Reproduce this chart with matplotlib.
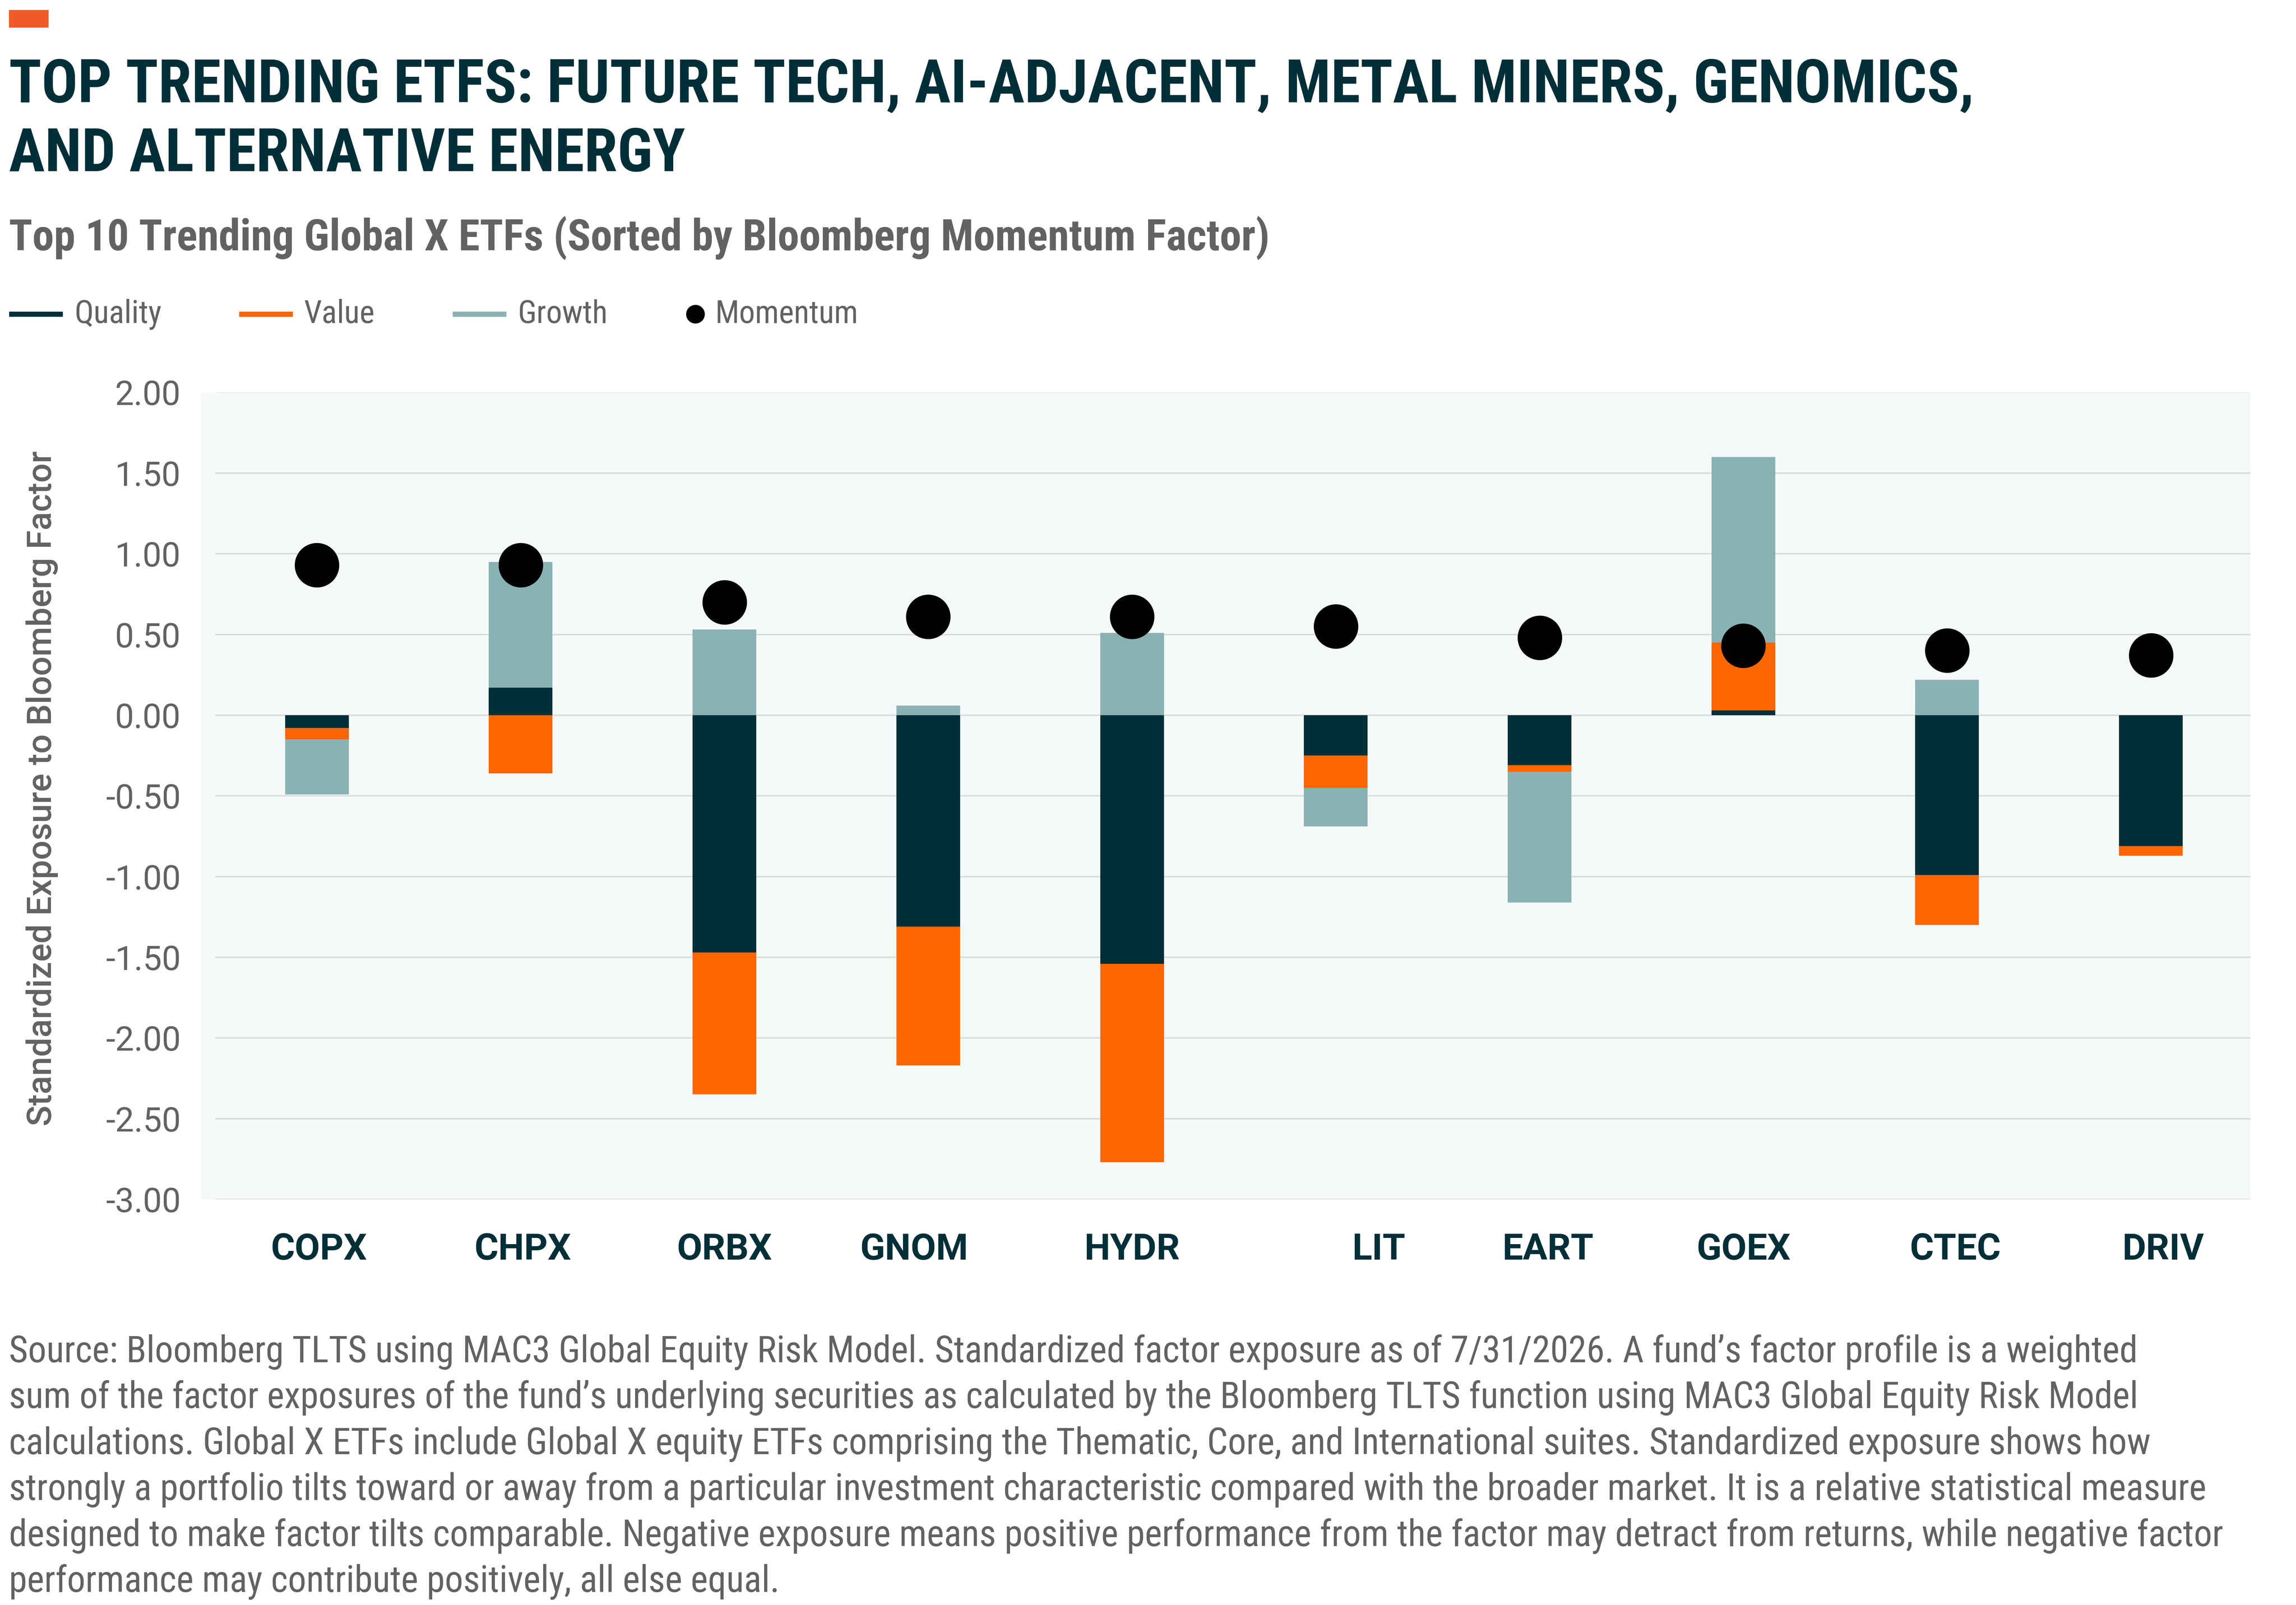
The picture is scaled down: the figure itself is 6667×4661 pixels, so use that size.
import numpy as np
import matplotlib
matplotlib.use("Agg")
import matplotlib.pyplot as plt
from matplotlib.lines import Line2D
from matplotlib.patches import Rectangle
from matplotlib import font_manager as fm

# ---------------- data ----------------
categories = ["COPX", "CHPX", "ORBX", "GNOM", "HYDR", "LIT", "EART", "GOEX", "CTEC", "DRIV"]
quality = [-0.08, 0.17, -1.47, -1.31, -1.54, -0.25, -0.31, 0.03, -0.99, -0.81]
value = [-0.07, -0.36, -0.88, -0.86, -1.23, -0.20, -0.04, 0.42, -0.31, -0.06]
growth = [-0.34, 0.78, 0.53, 0.06, 0.51, -0.24, -0.81, 1.15, 0.22, 0.00]
momentum = [0.93, 0.93, 0.70, 0.61, 0.61, 0.55, 0.48, 0.43, 0.40, 0.37]
series_names = ["Quality", "Value", "Growth"]
yticks = [2.0, 1.5, 1.0, 0.5, 0.0, -0.5, -1.0, -1.5, -2.0, -2.5, -3.0]

title_lines = ["TOP TRENDING ETFS: FUTURE TECH, AI-ADJACENT, METAL MINERS, GENOMICS,",
               "AND ALTERNATIVE ENERGY"]
subtitle = "Top 10 Trending Global X ETFs (Sorted by Bloomberg Momentum Factor)"
ylabel = "Standardized Exposure to Bloomberg Factor"
footnote_lines = [
    "Source: Bloomberg TLTS using MAC3 Global Equity Risk Model. Standardized factor exposure as of 7/31/2026. A fund\u2019s factor profile is a weighted",
    "sum of the factor exposures of the fund\u2019s underlying securities as calculated by the Bloomberg TLTS function using MAC3 Global Equity Risk Model",
    "calculations. Global X ETFs include Global X equity ETFs comprising the Thematic, Core, and International suites. Standardized exposure shows how",
    "strongly a portfolio tilts toward or away from a particular investment characteristic compared with the broader market. It is a relative statistical measure",
    "designed to make factor tilts comparable. Negative exposure means positive performance from the factor may detract from returns, while negative factor",
    "performance may contribute positively, all else equal.",
]

# ---------------- style ----------------
C_QUAL = "#012F38"
C_VAL = "#FF6600"
C_GROW = "#8AB2B3"
C_MOM = "#000000"
C_TITLE = "#012F38"
C_GRAY = "#626262"
C_BG = "#F5F9FA"
C_GRID = "#D9DBDD"
# small horizontal nudges of the category labels (layout, in category units)
label_nudge = [0.01, 0.01, 0.0, -0.07, 0.0, 0.21, 0.04, 0.0, 0.04, 0.06]

avail = {f.name for f in fm.fontManager.ttflist}
NARROW = "Roboto"
for cand in ["Roboto Condensed", "Liberation Sans Narrow", "Open Sans Condensed", "Roboto"]:
    if cand in avail:
        NARROW = cand
        break
REG = "Roboto" if "Roboto" in avail else "DejaVu Sans"

W, H, DPI = 6667, 4661, 300
fig = plt.figure(figsize=(W / DPI, H / DPI), dpi=DPI)
fig.patch.set_facecolor("white")


def fx(px):
    return px / W


def fy(py):
    return 1 - py / H


renderer = fig.canvas.get_renderer()


def fit(t, target, use_height=False):
    for _ in range(3):
        bb = t.get_window_extent(renderer=renderer)
        cur = bb.height if use_height else bb.width
        t.set_fontsize(t.get_fontsize() * target / cur)
    return t.get_fontsize()


# ---------------- header ----------------
fig.patches.append(Rectangle((fx(26), fy(80)), fx(141) - fx(26), fy(29) - fy(80),
                             transform=fig.transFigure, color="#F05A28", lw=0))

t1 = fig.text(fx(26), fy(297), title_lines[0], family=NARROW, weight="bold",
              color=C_TITLE, fontsize=40, va="baseline", ha="left")
fs_title = fit(t1, 5706)
fig.text(fx(26), fy(497), title_lines[1], family=NARROW, weight="bold",
         color=C_TITLE, fontsize=fs_title, va="baseline", ha="left")

st = fig.text(fx(26), fy(727), subtitle, family=NARROW, weight="semibold",
              color=C_GRAY, fontsize=24, va="baseline", ha="left")
fit(st, 3665)

# ---------------- legend ----------------
leg_y = fy(912)
leg_base = fy(938)
leg_colors = [C_QUAL, C_VAL, C_GROW]
line_x = [(26, 182), (694, 850), (1314, 1470)]
text_x = [217, 882, 1503]
tm = fig.text(fx(2077), leg_base, "Momentum", family=NARROW, color=C_GRAY,
              fontsize=18, va="baseline", ha="left")
fs_leg = fit(tm, 416)
for name, col, (a, b), tx in zip(series_names, leg_colors, line_x, text_x):
    fig.lines.append(Line2D([fx(a), fx(b)], [leg_y, leg_y], transform=fig.transFigure,
                            color=col, lw=3.6, solid_capstyle="butt"))
    fig.text(fx(tx), leg_base, name, family=NARROW, color=C_GRAY, fontsize=fs_leg,
             va="baseline", ha="left")
fig.lines.append(Line2D([fx(2019)], [leg_y], transform=fig.transFigure, marker="o",
                        ms=12, color=C_MOM, lw=0))

# ---------------- axes ----------------
ax_l, ax_r, ax_t, ax_b = 583, 6535, 1139.5, 3483
ax = fig.add_axes([fx(ax_l), fy(ax_b), fx(ax_r - ax_l), (ax_b - ax_t) / H])
ax.set_facecolor(C_BG)
x = np.arange(len(categories))
ax.set_xlim(-0.570, 9.489)
ax.set_ylim(-3, 2)

for yv in yticks:
    ax.hlines(yv, -0.499, 9.489, color=C_GRID, lw=1.0, zorder=1)

pos_base = np.zeros(len(categories))
neg_base = np.zeros(len(categories))
for vals, col in zip([quality, value, growth], leg_colors):
    v = np.array(vals, dtype=float)
    bottom = np.where(v >= 0, pos_base, neg_base)
    ax.bar(x, v, width=0.3126, bottom=bottom, color=col, lw=0, zorder=2)
    pos_base += np.where(v > 0, v, 0)
    neg_base += np.where(v < 0, v, 0)

ax.plot(x, momentum, "o", ms=30, color=C_MOM, lw=0, zorder=3)

ax.set_yticks(yticks)
ax.set_yticklabels([f"{v:.2f}" for v in yticks], family=REG, fontsize=23.5, color=C_GRAY)
ax.set_xticks(x + np.array(label_nudge))
ax.set_xticklabels(categories, family=REG, weight="bold", fontsize=25.5, color=C_TITLE)
ax.tick_params(axis="y", length=0, pad=14)
ax.tick_params(axis="x", length=0, pad=23)
for s in ax.spines.values():
    s.set_visible(False)

yl = fig.text(fx(122), fy(2290), ylabel, rotation=90, family=REG, weight="medium",
              color=C_GRAY, fontsize=24, ha="center", va="center")
fit(yl, 1963, use_height=True)

# ---------------- footnote ----------------
ft = []
for i, line in enumerate(footnote_lines):
    ft.append(fig.text(fx(26), fy(3956 + 133.4 * i), line, family=NARROW, color=C_GRAY,
                       fontsize=20, va="baseline", ha="left"))
fs_ft = fit(ft[3], 6383)
for t in ft:
    t.set_fontsize(fs_ft)

fig.savefig("out.png", dpi=DPI, facecolor="white")
